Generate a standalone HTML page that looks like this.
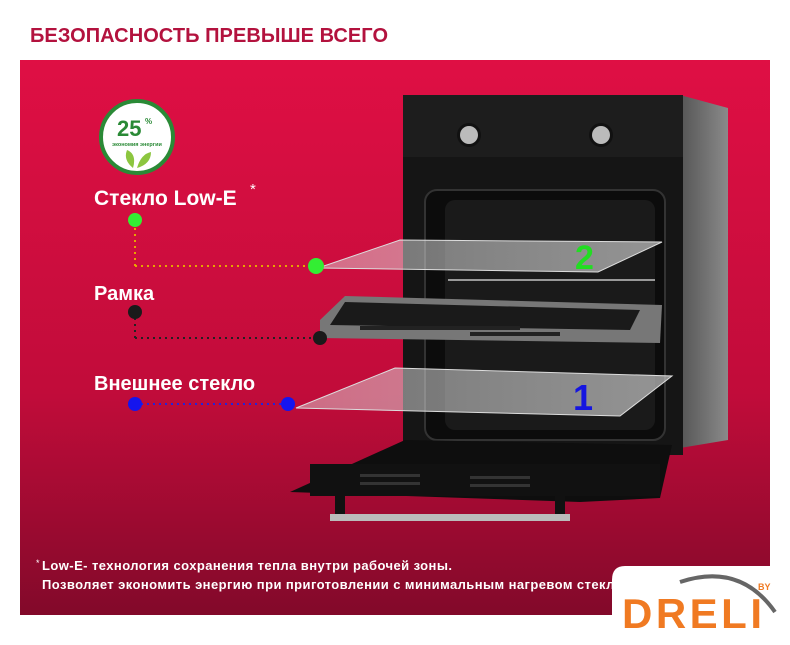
<!DOCTYPE html>
<html><head><meta charset="utf-8"><style>
body{margin:0;width:790px;height:640px;background:#fff;overflow:hidden;font-family:"Liberation Sans","DejaVu Sans",sans-serif}
</style></head><body>
<svg width="790" height="640" viewBox="0 0 790 640" xmlns="http://www.w3.org/2000/svg" font-family="Liberation Sans,DejaVu Sans,sans-serif">
<defs>
<linearGradient id="bg" x1="0" y1="0" x2="0" y2="1">
<stop offset="0" stop-color="#df0f44"/><stop offset="0.6" stop-color="#c10c3a"/><stop offset="1" stop-color="#82092a"/>
</linearGradient>
<linearGradient id="glass" x1="0" y1="0" x2="1" y2="0">
<stop offset="0" stop-color="#e0e0e0" stop-opacity=".45"/><stop offset="1" stop-color="#c8c8c8" stop-opacity=".7"/>
</linearGradient>
<linearGradient id="side" x1="0" y1="0" x2="1" y2="0">
<stop offset="0" stop-color="#555"/><stop offset="1" stop-color="#8a8a8a"/>
</linearGradient>
</defs>
<text x="30" y="42" font-size="20" font-weight="bold" fill="#b3123e" textLength="358">БЕЗОПАСНОСТЬ ПРЕВЫШЕ ВСЕГО</text>
<rect x="20" y="60" width="750" height="555" fill="url(#bg)"/>
<polygon points="680,95 728,108 728,440 680,448" fill="url(#side)"/>
<rect x="403" y="95" width="280" height="360" fill="#151515"/>
<rect x="403" y="95" width="280" height="62" fill="#1d1d1d"/>
<circle cx="469" cy="135" r="12" fill="#111"/><circle cx="601" cy="135" r="12" fill="#111"/>
<circle cx="469" cy="135" r="9" fill="#bbb"/><circle cx="601" cy="135" r="9" fill="#bbb"/>
<rect x="425" y="190" width="240" height="250" rx="12" fill="#0c0c0c" stroke="#333" stroke-width="2"/>
<rect x="445" y="200" width="210" height="230" rx="10" fill="#1a1a1a"/>
<line x1="448" y1="280" x2="655" y2="280" stroke="#999" stroke-width="2"/>
<polygon points="318,268 400,240 662,242 598,272" fill="url(#glass)" stroke="#ddd" stroke-width="1"/>
<text x="575" y="269" font-size="34" font-weight="bold" fill="#22dd22">2</text>
<polygon points="320,320 345,296 662,305 660,343 320,338" fill="#777"/>
<polygon points="345,302 640,310 630,330 330,325" fill="#1a1a1a"/>
<g fill="#222"><rect x="360" y="326" width="160" height="4"/><rect x="470" y="332" width="90" height="4"/></g>
<polygon points="296,408 395,368 672,376 620,416" fill="url(#glass)" stroke="#ddd"/>
<text x="573" y="410" font-size="36" font-weight="bold" fill="#1515e0">1</text>
<polygon points="290,492 405,440 672,445 660,498 580,502" fill="#0e0e0e"/>
<rect x="310" y="464" width="350" height="32" fill="#111"/>
<g fill="#333"><rect x="360" y="474" width="60" height="3"/><rect x="360" y="482" width="60" height="3"/><rect x="470" y="476" width="60" height="3"/><rect x="470" y="484" width="60" height="3"/></g>
<rect x="335" y="495" width="10" height="20" fill="#111"/><rect x="555" y="495" width="10" height="25" fill="#111"/>
<rect x="330" y="514" width="240" height="7" fill="#bbb"/>
<line x1="135" y1="222" x2="135" y2="266" stroke="#e8a400" stroke-width="2" stroke-dasharray="2,4"/>
<line x1="135" y1="266" x2="316" y2="266" stroke="#e8a400" stroke-width="2" stroke-dasharray="2,4"/>
<circle cx="135" cy="220" r="7" fill="#33ee33"/><circle cx="316" cy="266" r="8" fill="#33ee33"/>
<line x1="135" y1="312" x2="135" y2="338" stroke="#222" stroke-width="2" stroke-dasharray="2,4"/>
<line x1="135" y1="338" x2="320" y2="338" stroke="#222" stroke-width="2" stroke-dasharray="2,4"/>
<circle cx="135" cy="312" r="7" fill="#1a1a1a"/><circle cx="320" cy="338" r="7" fill="#1a1a1a"/>
<line x1="135" y1="404" x2="288" y2="404" stroke="#2222dd" stroke-width="2" stroke-dasharray="2,4"/>
<circle cx="135" cy="404" r="7" fill="#1515ee"/><circle cx="288" cy="404" r="7" fill="#1515ee"/>
<text x="94" y="205" font-size="21" font-weight="bold" fill="#fff">Стекло Low-E</text><text x="250" y="194" font-size="15" fill="#fff">*</text>
<text x="94" y="300" font-size="20" font-weight="bold" fill="#fff">Рамка</text>
<text x="94" y="390" font-size="20" font-weight="bold" fill="#fff">Внешнее стекло</text>
<circle cx="137" cy="137" r="36" fill="#fff" stroke="#2a8a36" stroke-width="4"/>
<text x="117" y="136" font-size="22" font-weight="bold" fill="#2a8a36">25</text><text x="145" y="124" font-size="8" font-weight="bold" fill="#2a8a36">%</text>
<text x="137" y="146" font-size="5.5" font-weight="bold" fill="#2a8a36" text-anchor="middle">экономия энергии</text>
<path d="M133,168 q-10,-8 -6,-18 q10,4 6,18z M137,168 q4,-14 14,-16 q0,12 -14,16z" fill="#8cc63f"/>
<text x="36" y="566" font-size="9" fill="#fff">*</text>
<text x="42" y="570" font-size="13" font-weight="bold" fill="#fff" textLength="410">Low-E- технология сохранения тепла внутри рабочей зоны.</text>
<text x="42" y="589" font-size="13" font-weight="bold" fill="#fff" textLength="580">Позволяет экономить энергию при приготовлении с минимальным нагревом стекла</text>
<path d="M625,566 H790 V640 H612 V580 q0,-14 13,-14z" fill="#fff"/>
<text x="622" y="628" font-size="42" font-weight="bold" fill="#f07a22" textLength="140">DRELI</text>
<text x="758" y="590" font-size="9" font-weight="bold" fill="#f07a22">BY</text>
<path d="M680,582 q60,-20 95,30" fill="none" stroke="#666" stroke-width="4"/>
</svg>
</body></html>
